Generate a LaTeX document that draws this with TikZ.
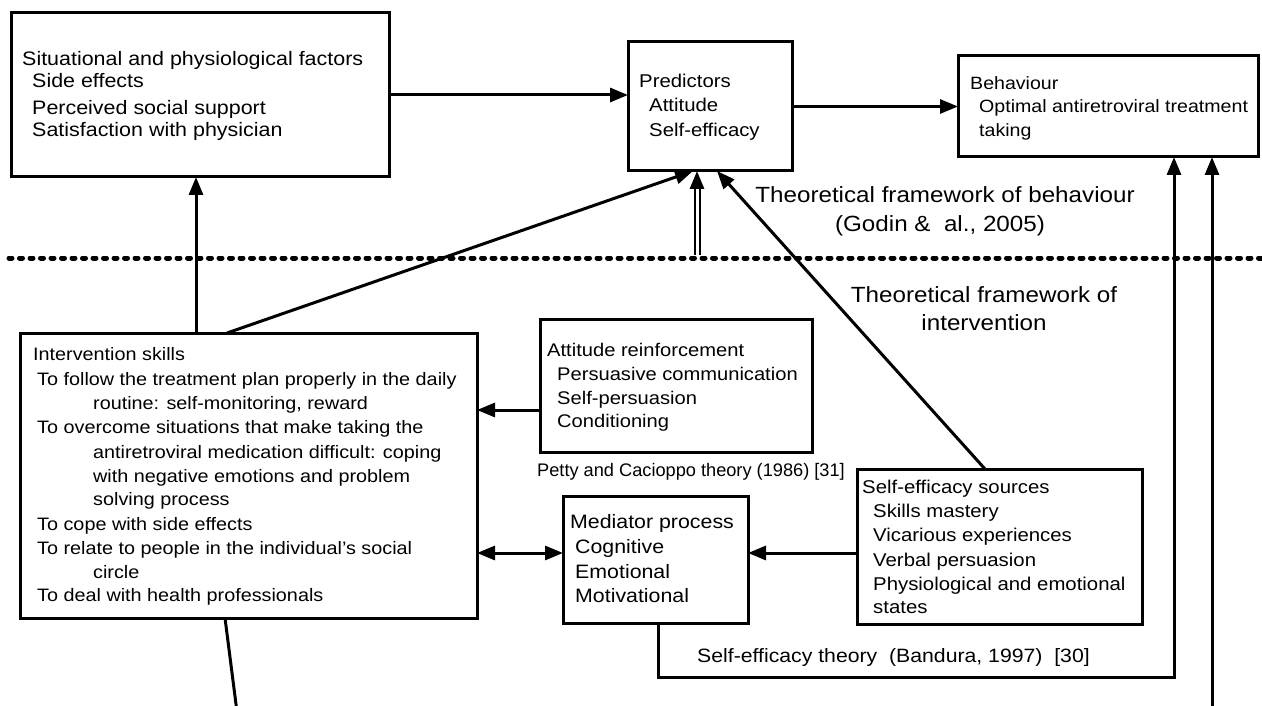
\documentclass[tikz,border=0pt]{standalone}
\usepackage{fontspec}
\setmainfont{Liberation Sans}[FakeStretch=1.1]
\newfontfamily\plainf{Liberation Sans}
\usetikzlibrary{arrows.meta}
\tikzset{
  box/.style={draw, line width=3pt, anchor=north west, inner sep=0pt, outer sep=0pt},
  arr/.style={line width=3pt, -{Triangle[length=18pt,width=14pt]}},
  darr/.style={line width=3pt, {Triangle[length=18pt,width=14pt]}-{Triangle[length=18pt,width=14pt]}},
  conn/.style={line width=3pt},
  dshaft/.style={line width=2pt, double distance=3pt, double},
  txt/.style={anchor=base west, inner sep=0pt, font=\fontsize{#1}{22}\selectfont},
  txt/.default=18.5,
  frame/.style={anchor=base, inner sep=0pt, font=\fontsize{22}{26}\selectfont},
  sep/.style={line width=5pt, dash pattern=on 3pt off 7.5pt, line cap=round}
}
\begin{document}
\begin{tikzpicture}[x=1pt,y=-1pt]
\useasboundingbox (0,0) rectangle (1262,706);

% boxes
\node[box, minimum width=378pt, minimum height=164pt] (sit) at (11,13) {};
\node[box, minimum width=164pt, minimum height=129pt] (pred) at (628,42) {};
\node[box, minimum width=300pt, minimum height=101pt] (beh) at (958,56) {};
\node[box, minimum width=457pt, minimum height=285pt] (int) at (20,333) {};
\node[box, minimum width=272pt, minimum height=133pt] (att) at (540,319) {};
\node[box, minimum width=285pt, minimum height=155pt] (sef) at (857,469) {};
\node[box, minimum width=185pt, minimum height=127pt] (med) at (563,496) {};

% texts: situational
\node[txt=19.5] (sit1) at (22,66) {Situational and physiological factors};
\node[txt=19.5] (sit2) at (32,88) {Side effects};
\node[txt=19.5] (sit3) at (32,115) {Perceived social support};
\node[txt=19.5] (sit4) at (32,137) {Satisfaction with physician};
% predictors
\node[txt] (pr1) at (639,88) {Predictors};
\node[txt] (pr2) at (649,112) {Attitude};
\node[txt] (pr3) at (649,137) {Self-efficacy};
% behaviour
\node[txt=17.8] (be1) at (970,90) {Behaviour};
\node[txt=17.8] (be2) at (979,113) {Optimal antiretroviral treatment};
\node[txt=17.8] (be3) at (979,137) {taking};
% intervention
\node[txt=18] (in1) at (33,360) {Intervention skills};
\node[txt=18] (in2) at (37,385) {To follow the treatment plan properly in the daily};
\node[txt=18] (in3) at (93,409) {routine: self-monitoring, reward};
\node[txt=18] (in4) at (37,433) {To overcome situations that make taking the};
\node[txt=18] (in5) at (93,458) {antiretroviral medication difficult: coping};
\node[txt=18] (in6) at (93,482) {with negative emotions and problem};
\node[txt=18] (in7) at (93,505) {solving process};
\node[txt=18] (in8) at (37,530) {To cope with side effects};
\node[txt=18] (in9) at (37,554) {To relate to people in the individual’s social};
\node[txt=18] (in10) at (93,578) {circle};
\node[txt=18] (in11) at (37,601) {To deal with health professionals};
% attitude reinforcement
\node[txt=18.3] (at1) at (547,356) {Attitude reinforcement};
\node[txt=18.3] (at2) at (557,380) {Persuasive communication};
\node[txt=18.3] (at3) at (557,404) {Self-persuasion};
\node[txt=18.3] (at4) at (557,427) {Conditioning};
% self-efficacy sources
\node[txt] (se1) at (862,493) {Self-efficacy sources};
\node[txt] (se2) at (873,517) {Skills mastery};
\node[txt] (se3) at (873,541) {Vicarious experiences};
\node[txt] (se4) at (873,566) {Verbal persuasion};
\node[txt] (se5) at (873,590) {Physiological and emotional};
\node[txt] (se6) at (873,613) {states};
% mediator
\node[txt=19.4] (me1) at (570,528) {Mediator process};
\node[txt=19.4] (me2) at (575,553) {Cognitive};
\node[txt=19.4] (me3) at (575,578) {Emotional};
\node[txt=19.4] (me4) at (575,602) {Motivational};

% captions
\node[anchor=base west, inner sep=0pt, font=\plainf\fontsize{18.2}{22}\selectfont] (petty) at (537,476) {Petty and Cacioppo theory (1986) [31]};
\node[txt=19.3] (band) at (697,662) {Self-efficacy theory~ (Bandura, 1997)~ [30]};
\node[frame] (fb1) at (945,203) {Theoretical framework of behaviour};
\node[frame] (fb2) at (940,231) {(Godin \&~ al., 2005)};
\node[frame] (fi1) at (984,302) {Theoretical framework of};
\node[frame] (fi2) at (984,330) {intervention};

% separator
\coordinate (sepL) at (9,258);
\coordinate (sepR) at (1266,258);
\draw[sep] (sepL) -- (sepR);

% helper coordinates
\coordinate (attOut) at ([yshift=-91pt]att.north west);
\coordinate (sefOut) at ([yshift=-84pt]sef.north west);
\coordinate (intMed) at ([yshift=-220pt]int.north east);
\coordinate (dbl) at (697,255);
\coordinate (dtip) at (pred.south -| dbl);
\coordinate (dneck) at ([yshift=-15pt]dtip);
\coordinate (dneck2) at ([yshift=-17pt]dtip);
\coordinate (lp1) at (1174,677);
\coordinate (rb) at (1212,712);
\coordinate (ib) at (237,712);

% connectors
\draw[arr] (sit.east) -- (pred.west |- sit.east);
\draw[arr] (pred.east) -- (beh.west |- pred.east);
\draw[arr] ([xshift=176pt]int.north west) -- ([xshift=185pt]sit.south west);
\draw[arr] ([xshift=207pt]int.north west) -- ([xshift=65pt]pred.south west);
\draw[arr] ([xshift=128pt]sef.north west) -- ([xshift=89pt]pred.south west);
\draw[dshaft] (dbl) -- (dneck2);
\draw[arr] (dneck) -- (dtip);
\draw[arr] (attOut) -- (int.east |- attOut);
\draw[arr] (sefOut) -- (med.east |- sefOut);
\draw[darr] (intMed) -- (med.west |- intMed);
\draw[arr] ([xshift=95pt]med.south west) |- (lp1) -- (beh.south -| lp1);
\draw[arr] (rb) -- (beh.south -| rb);
\draw[conn] ([xshift=205pt]int.south west) -- (ib);
\end{tikzpicture}
\end{document}
